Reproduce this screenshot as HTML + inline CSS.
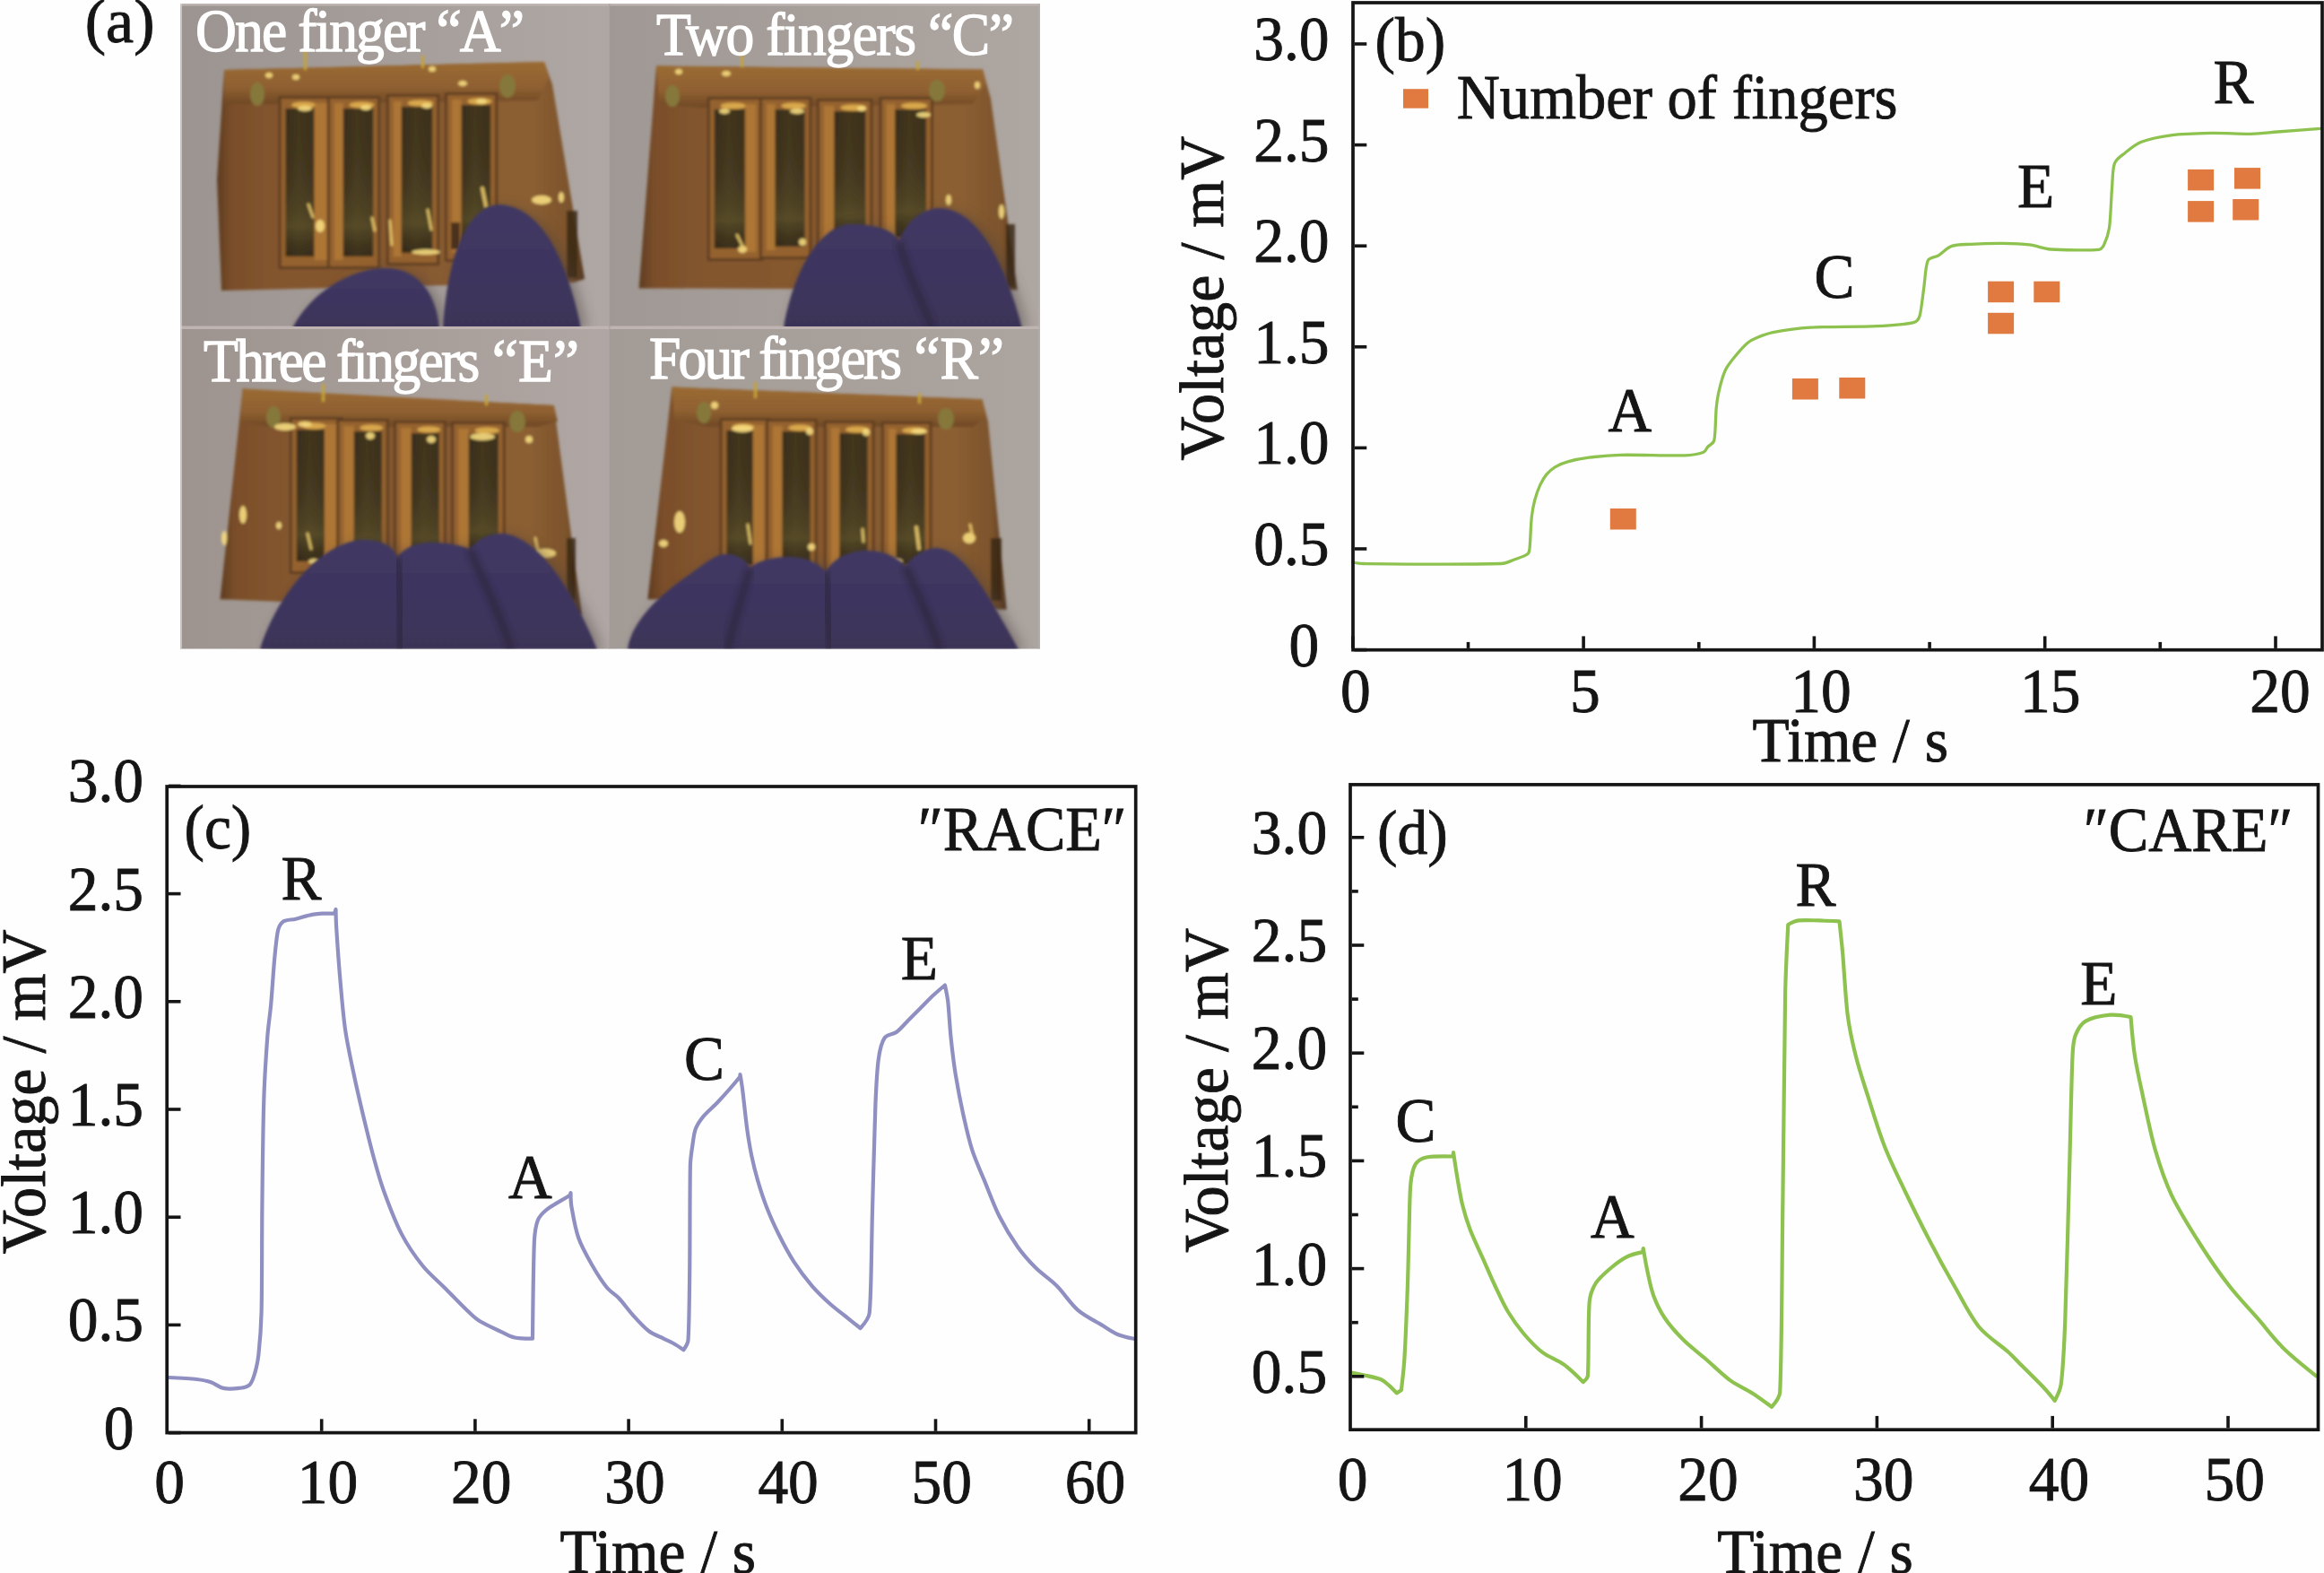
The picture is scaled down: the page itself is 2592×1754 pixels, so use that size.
<!DOCTYPE html><html><head><meta charset="utf-8"><style>html,body{margin:0;padding:0;background:#fff;overflow:hidden}svg{display:block}</style></head><body>
<svg xmlns="http://www.w3.org/2000/svg" width="2592" height="1754" viewBox="0 0 2592 1754" font-family="Liberation Serif">
<rect width="2592" height="1754" fill="#fefefe"/>
<defs><filter id="blur1" x="-5%" y="-5%" width="110%" height="110%"><feGaussianBlur stdDeviation="1.4"/></filter><filter id="blur3" x="-20%" y="-20%" width="140%" height="140%"><feGaussianBlur stdDeviation="3.5"/></filter><filter id="blur8" x="-20%" y="-20%" width="140%" height="140%"><feGaussianBlur stdDeviation="7"/></filter><linearGradient id="gold" x1="0" y1="0" x2="1" y2="0"><stop offset="0" stop-color="#5e3c20"/><stop offset="0.04" stop-color="#7a4e2a"/><stop offset="0.15" stop-color="#82552e"/><stop offset="0.5" stop-color="#86592f"/><stop offset="0.85" stop-color="#8c5f31"/><stop offset="0.96" stop-color="#7c532c"/><stop offset="1" stop-color="#4e3520"/></linearGradient><linearGradient id="elec" x1="0" y1="0" x2="1" y2="0"><stop offset="0" stop-color="#3b2e1c"/><stop offset="0.45" stop-color="#463a20"/><stop offset="1" stop-color="#3e311e"/></linearGradient><linearGradient id="elecv" x1="0" y1="0" x2="0" y2="1"><stop offset="0" stop-color="#000" stop-opacity="0.05"/><stop offset="0.55" stop-color="#5e5428" stop-opacity="0.15"/><stop offset="0.8" stop-color="#6a6030" stop-opacity="0.45"/><stop offset="1" stop-color="#20180c" stop-opacity="0.3"/></linearGradient><linearGradient id="glove" x1="0" y1="0" x2="0" y2="1"><stop offset="0" stop-color="#403864"/><stop offset="1" stop-color="#3b3358"/></linearGradient><clipPath id="q1"><rect x="201" y="4" width="479" height="360"/></clipPath><clipPath id="q2"><rect x="680" y="4" width="480" height="360"/></clipPath><clipPath id="q3"><rect x="201" y="366" width="479" height="357.5"/></clipPath><clipPath id="q4"><rect x="680" y="366" width="480" height="357.5"/></clipPath></defs>
<linearGradient id="bg1" x1="0" y1="0" x2="1" y2="0"><stop offset="0" stop-color="#9c9490"/><stop offset="1" stop-color="#afa7a3"/></linearGradient>
<linearGradient id="bg2" x1="0" y1="0" x2="1" y2="0"><stop offset="0" stop-color="#a09894"/><stop offset="1" stop-color="#aea6a1"/></linearGradient>
<linearGradient id="bg3" x1="0" y1="0" x2="1" y2="0"><stop offset="0" stop-color="#9d948f"/><stop offset="1" stop-color="#b0a7a4"/></linearGradient>
<linearGradient id="bg4" x1="0" y1="0" x2="1" y2="0"><stop offset="0" stop-color="#a39b96"/><stop offset="1" stop-color="#aca49f"/></linearGradient>
<rect x="201" y="4" width="479" height="360" fill="url(#bg1)"/>
<rect x="680" y="4" width="480" height="360" fill="url(#bg2)"/>
<rect x="201" y="364" width="479" height="359.5" fill="url(#bg3)"/>
<rect x="680" y="364" width="480" height="359.5" fill="url(#bg4)"/>
<rect x="201" y="363.5" width="959" height="3.5" fill="#bfb4b1"/>
<rect x="201" y="4" width="959" height="2.5" fill="#c4bab6" opacity="0.8"/>
<rect x="201" y="4" width="2" height="719.5" fill="#d6cdc9" opacity="0.8"/>
<rect x="1158" y="4" width="2" height="719.5" fill="#b8afab" opacity="0.7"/>
<rect x="679" y="4" width="1.5" height="719.5" fill="#a79f9c" opacity="0.6"/>
<linearGradient id="bus" x1="0" y1="0" x2="0" y2="1"><stop offset="0" stop-color="#9a6a32"/><stop offset="0.6" stop-color="#8f6030"/><stop offset="1" stop-color="#6e4825"/></linearGradient>
<g clip-path="url(#q1)"><g filter="url(#blur1)">
<polygon points="250.0,78.0 607.0,69.0 616.0,94.0 652.0,311.0 640.0,315.0 247.0,324.0 242.0,200.0" fill="url(#gold)"/>
<polygon points="250.0,78.0 607.0,69.0 612.0,86.0 600.0,112.0 300.0,116.0 250.0,116.0" fill="url(#bus)"/>
<rect x="310.6" y="107" width="62.39999999999998" height="193" fill="#5e3e20"/>
<rect x="313.6" y="110" width="56.39999999999998" height="187" fill="#94622f"/>
<rect x="351" y="115" width="14" height="175" fill="#ad7636"/>
<rect x="318.6" y="121" width="31.599999999999966" height="165" fill="url(#elec)"/>
<rect x="318.6" y="121" width="31.599999999999966" height="165" fill="url(#elecv)"/>
<ellipse cx="338.4" cy="117" rx="13.2" ry="3.5" fill="#e0b050" opacity="0.9"/>
<rect x="364.8" y="107" width="59.39999999999998" height="193" fill="#5e3e20"/>
<rect x="367.8" y="110" width="53.39999999999998" height="187" fill="#94622f"/>
<rect x="372.8" y="115" width="10.0" height="175" fill="#ad7636"/>
<rect x="382.8" y="121" width="33.39999999999998" height="165" fill="url(#elec)"/>
<rect x="382.8" y="121" width="33.39999999999998" height="165" fill="url(#elecv)"/>
<ellipse cx="403.5" cy="117" rx="13.9" ry="3.5" fill="#e0b050" opacity="0.9"/>
<rect x="430.8" y="105" width="59.39999999999998" height="191" fill="#5e3e20"/>
<rect x="433.8" y="108" width="53.39999999999998" height="185" fill="#94622f"/>
<rect x="438.8" y="113" width="9.0" height="173" fill="#ad7636"/>
<rect x="447.8" y="119" width="34.39999999999998" height="163" fill="url(#elec)"/>
<rect x="447.8" y="119" width="34.39999999999998" height="163" fill="url(#elecv)"/>
<ellipse cx="469.0" cy="115" rx="14.3" ry="3.5" fill="#e0b050" opacity="0.9"/>
<rect x="496" y="103" width="59.200000000000045" height="189" fill="#5e3e20"/>
<rect x="499" y="106" width="53.200000000000045" height="183" fill="#94622f"/>
<rect x="504" y="111" width="10.700000000000045" height="171" fill="#ad7636"/>
<rect x="514.7" y="117" width="32.5" height="161" fill="url(#elec)"/>
<rect x="514.7" y="117" width="32.5" height="161" fill="url(#elecv)"/>
<ellipse cx="534.95" cy="113" rx="13.5" ry="3.5" fill="#e0b050" opacity="0.9"/>
<rect x="503" y="248" width="10" height="30" fill="#3a2816" opacity="0.85"/>
<rect x="632" y="235" width="12" height="75" fill="#3a2816" opacity="0.85"/>
<ellipse cx="287" cy="105" rx="8" ry="13" fill="#86783a"/>
<ellipse cx="566" cy="96" rx="9" ry="13" fill="#86783a"/>
<rect x="339" y="56" width="3" height="22" fill="#c4a23a"/>
<rect x="470" y="62" width="3" height="14" fill="#c4a23a"/>
<ellipse cx="357" cy="252" rx="5" ry="7" fill="#f6dc80" opacity="0.9"/>
<ellipse cx="604" cy="223" rx="11" ry="5" fill="#f6dc80" opacity="0.9"/>
<ellipse cx="626" cy="220" rx="3" ry="6" fill="#f6dc80" opacity="0.9"/>
<ellipse cx="475" cy="281" rx="16" ry="3" fill="#f6dc80" opacity="0.9"/>
<ellipse cx="340" cy="121" rx="8" ry="3" fill="#f6dc80" opacity="0.9"/>
<ellipse cx="408" cy="120" rx="6" ry="3" fill="#f6dc80" opacity="0.9"/>
<ellipse cx="476" cy="118" rx="6" ry="3" fill="#f6dc80" opacity="0.9"/>
<ellipse cx="537" cy="113" rx="6" ry="3" fill="#f6dc80" opacity="0.9"/>
<ellipse cx="300" cy="84" rx="4" ry="3" fill="#f6dc80" opacity="0.9"/>
<ellipse cx="330" cy="86" rx="4" ry="3" fill="#f6dc80" opacity="0.9"/>
<ellipse cx="482" cy="77" rx="4" ry="3" fill="#f6dc80" opacity="0.9"/>
<ellipse cx="516" cy="93" rx="5" ry="3" fill="#f6dc80" opacity="0.9"/>
<line x1="344" y1="228" x2="349" y2="242" stroke="#f2d070" stroke-width="3" stroke-linecap="round" opacity="0.85"/>
<line x1="415" y1="243" x2="418" y2="257" stroke="#f2d070" stroke-width="3" stroke-linecap="round" opacity="0.85"/>
<line x1="435" y1="246" x2="437" y2="273" stroke="#f2d070" stroke-width="3" stroke-linecap="round" opacity="0.85"/>
<line x1="477" y1="234" x2="481" y2="256" stroke="#f2d070" stroke-width="3" stroke-linecap="round" opacity="0.85"/>
<line x1="538" y1="210" x2="542" y2="230" stroke="#f2d070" stroke-width="4" stroke-linecap="round" opacity="0.85"/>
</g>
<path d="M 326 366 C 345 328, 390 299, 430 299 C 465 299, 486 325, 490 366 Z" fill="#4a4040" opacity="0.45" transform="translate(7,2)" filter="url(#blur8)"/>
<path d="M 494 366 C 498 300, 515 232, 556 228 C 605 230, 632 290, 648 366 Z" fill="#4a4040" opacity="0.45" transform="translate(7,2)" filter="url(#blur8)"/>
<g filter="url(#blur1)">
<path d="M 326 366 C 345 328, 390 299, 430 299 C 465 299, 486 325, 490 366 Z" fill="url(#glove)"/>
<path d="M 494 366 C 498 300, 515 232, 556 228 C 605 230, 632 290, 648 366 Z" fill="url(#glove)"/>
</g>
</g>
<g clip-path="url(#q2)"><g filter="url(#blur1)">
<polygon points="732.0,73.6 1096.0,77.4 1105.0,110.0 1134.7,323.3 712.6,321.4" fill="url(#gold)"/>
<polygon points="732.0,73.6 1096.0,77.4 1100.0,92.0 1085.0,116.0 780.0,120.0 735.0,116.0" fill="url(#bus)"/>
<rect x="788.8" y="108" width="62.5" height="183" fill="#5e3e20"/>
<rect x="791.8" y="111" width="56.5" height="177" fill="#94622f"/>
<rect x="831.7" y="116" width="11.599999999999909" height="165" fill="#ad7636"/>
<rect x="796.8" y="122" width="33.90000000000009" height="155" fill="url(#elec)"/>
<rect x="796.8" y="122" width="33.90000000000009" height="155" fill="url(#elecv)"/>
<ellipse cx="817.75" cy="118" rx="14.1" ry="3.5" fill="#e0b050" opacity="0.9"/>
<rect x="846.9" y="108" width="58.60000000000002" height="181" fill="#5e3e20"/>
<rect x="849.9" y="111" width="52.60000000000002" height="175" fill="#94622f"/>
<rect x="854.9" y="116" width="9.700000000000045" height="163" fill="#ad7636"/>
<rect x="864.6" y="122" width="32.89999999999998" height="153" fill="url(#elec)"/>
<rect x="864.6" y="122" width="32.89999999999998" height="153" fill="url(#elecv)"/>
<ellipse cx="885.05" cy="118" rx="13.7" ry="3.5" fill="#e0b050" opacity="0.9"/>
<rect x="910.8" y="110" width="62.5" height="174" fill="#5e3e20"/>
<rect x="913.8" y="113" width="56.5" height="168" fill="#94622f"/>
<rect x="918.8" y="118" width="11.600000000000023" height="156" fill="#ad7636"/>
<rect x="930.4" y="124" width="34.89999999999998" height="146" fill="url(#elec)"/>
<rect x="930.4" y="124" width="34.89999999999998" height="146" fill="url(#elecv)"/>
<ellipse cx="951.8499999999999" cy="120" rx="14.5" ry="3.5" fill="#e0b050" opacity="0.9"/>
<rect x="980.5" y="108" width="60.5" height="171" fill="#5e3e20"/>
<rect x="983.5" y="111" width="54.5" height="165" fill="#94622f"/>
<rect x="988.5" y="116" width="9.700000000000045" height="153" fill="#ad7636"/>
<rect x="998.2" y="122" width="34.799999999999955" height="143" fill="url(#elec)"/>
<rect x="998.2" y="122" width="34.799999999999955" height="143" fill="url(#elecv)"/>
<ellipse cx="1019.6" cy="118" rx="14.5" ry="3.5" fill="#e0b050" opacity="0.9"/>
<rect x="1122" y="250" width="10" height="70" fill="#3a2816" opacity="0.85"/>
<ellipse cx="750" cy="107" rx="8" ry="12" fill="#86783a"/>
<ellipse cx="1045" cy="101" rx="9" ry="12" fill="#86783a"/>
<rect x="826" y="58" width="3" height="17" fill="#c4a23a"/>
<rect x="1022" y="68" width="3" height="10" fill="#c4a23a"/>
<ellipse cx="808" cy="124" rx="6" ry="3" fill="#f6dc80" opacity="0.9"/>
<ellipse cx="889" cy="124" rx="8" ry="3" fill="#f6dc80" opacity="0.9"/>
<ellipse cx="961" cy="121" rx="5" ry="3" fill="#f6dc80" opacity="0.9"/>
<ellipse cx="1030" cy="128" rx="8" ry="3" fill="#f6dc80" opacity="0.9"/>
<ellipse cx="828" cy="278" rx="5" ry="4" fill="#f6dc80" opacity="0.9"/>
<ellipse cx="895" cy="270" rx="4" ry="4" fill="#f6dc80" opacity="0.9"/>
<ellipse cx="757" cy="80" rx="4" ry="3" fill="#f6dc80" opacity="0.9"/>
<ellipse cx="810" cy="82" rx="5" ry="3" fill="#f6dc80" opacity="0.9"/>
<ellipse cx="1058" cy="223" rx="3" ry="6" fill="#f6dc80" opacity="0.9"/>
<ellipse cx="1117" cy="236" rx="3" ry="8" fill="#f6dc80" opacity="0.9"/>
<ellipse cx="1090" cy="95" rx="3" ry="4" fill="#f6dc80" opacity="0.9"/>
<line x1="822" y1="262" x2="829" y2="276" stroke="#f2d070" stroke-width="3" stroke-linecap="round" opacity="0.85"/>
<line x1="952" y1="258" x2="955" y2="270" stroke="#f2d070" stroke-width="3" stroke-linecap="round" opacity="0.85"/>
<line x1="1020" y1="250" x2="1024" y2="262" stroke="#f2d070" stroke-width="3" stroke-linecap="round" opacity="0.85"/>
</g>
<path d="M 874 366 C 885 300, 915 252, 948 250 C 980 250, 997 258, 1003 268 C 1012 245, 1030 232, 1049 232 C 1090 234, 1120 290, 1140 366 Z" fill="#4a4040" opacity="0.45" transform="translate(7,2)" filter="url(#blur8)"/>
<g filter="url(#blur1)">
<path d="M 874 366 C 885 300, 915 252, 948 250 C 980 250, 997 258, 1003 268 C 1012 245, 1030 232, 1049 232 C 1090 234, 1120 290, 1140 366 Z" fill="url(#glove)"/>
</g>
<path d="M 1003 270 C 1010 300, 1025 330, 1040 366" fill="none" stroke="#2b2334" stroke-width="7" opacity="0.7" filter="url(#blur3)"/>
</g>
<g clip-path="url(#q3)"><g filter="url(#blur1)">
<polygon points="270.7,433.6 354.0,439.4 617.8,452.0 648.8,685.6 315.0,671.0 245.5,668.2" fill="url(#gold)"/>
<polygon points="270.7,433.6 617.8,452.0 622.0,470.0 600.0,476.0 300.0,476.0 268.0,470.0" fill="url(#bus)"/>
<rect x="322.8" y="465" width="60.19999999999999" height="175" fill="#5e3e20"/>
<rect x="325.8" y="468" width="54.19999999999999" height="169" fill="#94622f"/>
<rect x="362" y="473" width="13" height="157" fill="#ad7636"/>
<rect x="330.8" y="479" width="31.0" height="147" fill="url(#elec)"/>
<rect x="330.8" y="479" width="31.0" height="147" fill="url(#elecv)"/>
<ellipse cx="350.3" cy="475" rx="12.9" ry="3.5" fill="#e0b050" opacity="0.9"/>
<rect x="375.2" y="467" width="58.60000000000002" height="177" fill="#5e3e20"/>
<rect x="378.2" y="470" width="52.60000000000002" height="171" fill="#94622f"/>
<rect x="383.2" y="475" width="11.600000000000023" height="159" fill="#ad7636"/>
<rect x="394.8" y="481" width="31.0" height="149" fill="url(#elec)"/>
<rect x="394.8" y="481" width="31.0" height="149" fill="url(#elecv)"/>
<ellipse cx="414.3" cy="477" rx="12.9" ry="3.5" fill="#e0b050" opacity="0.9"/>
<rect x="439.1" y="469" width="58.69999999999999" height="175" fill="#5e3e20"/>
<rect x="442.1" y="472" width="52.69999999999999" height="169" fill="#94622f"/>
<rect x="447.1" y="477" width="11.699999999999989" height="157" fill="#ad7636"/>
<rect x="458.8" y="483" width="31.0" height="147" fill="url(#elec)"/>
<rect x="458.8" y="483" width="31.0" height="147" fill="url(#elecv)"/>
<ellipse cx="478.3" cy="479" rx="12.9" ry="3.5" fill="#e0b050" opacity="0.9"/>
<rect x="503.1" y="470" width="60.60000000000002" height="164" fill="#5e3e20"/>
<rect x="506.1" y="473" width="54.60000000000002" height="158" fill="#94622f"/>
<rect x="511.1" y="478" width="11.699999999999932" height="146" fill="#ad7636"/>
<rect x="522.8" y="484" width="32.90000000000009" height="136" fill="url(#elec)"/>
<rect x="522.8" y="484" width="32.90000000000009" height="136" fill="url(#elecv)"/>
<ellipse cx="543.25" cy="480" rx="13.7" ry="3.5" fill="#e0b050" opacity="0.9"/>
<rect x="632" y="600" width="10" height="70" fill="#3a2816" opacity="0.85"/>
<ellipse cx="305" cy="465" rx="8" ry="12" fill="#86783a"/>
<ellipse cx="577" cy="470" rx="9" ry="12" fill="#86783a"/>
<rect x="359" y="428" width="3" height="20" fill="#c4a23a"/>
<rect x="541" y="440" width="3" height="12" fill="#c4a23a"/>
<ellipse cx="271" cy="574" rx="4" ry="10" fill="#f6dc80" opacity="0.9"/>
<ellipse cx="311" cy="586" rx="3" ry="4" fill="#f6dc80" opacity="0.9"/>
<ellipse cx="318" cy="476" rx="12" ry="4" fill="#f6dc80" opacity="0.9"/>
<ellipse cx="413" cy="486" rx="5" ry="4" fill="#f6dc80" opacity="0.9"/>
<ellipse cx="481" cy="490" rx="5" ry="4" fill="#f6dc80" opacity="0.9"/>
<ellipse cx="538" cy="487" rx="14" ry="4" fill="#f6dc80" opacity="0.9"/>
<ellipse cx="608" cy="617" rx="12" ry="5" fill="#f6dc80" opacity="0.9"/>
<ellipse cx="350" cy="626" rx="6" ry="3" fill="#f6dc80" opacity="0.9"/>
<ellipse cx="340" cy="473" rx="8" ry="3" fill="#f6dc80" opacity="0.9"/>
<ellipse cx="590" cy="490" rx="4" ry="4" fill="#f6dc80" opacity="0.9"/>
<ellipse cx="250" cy="600" rx="3" ry="8" fill="#f6dc80" opacity="0.9"/>
<line x1="343" y1="595" x2="347" y2="612" stroke="#f2d070" stroke-width="3" stroke-linecap="round" opacity="0.85"/>
<line x1="597" y1="600" x2="600" y2="615" stroke="#f2d070" stroke-width="3" stroke-linecap="round" opacity="0.85"/>
</g>
<path d="M 290 724 C 310 660, 360 604, 404 602 C 430 602, 440 612, 443 621 C 452 610, 465 605, 480 605 C 505 605, 518 610, 524 612 C 535 600, 545 595, 560 595 C 600 597, 640 660, 666 724 Z" fill="#4a4040" opacity="0.45" transform="translate(7,2)" filter="url(#blur8)"/>
<g filter="url(#blur1)">
<path d="M 290 724 C 310 660, 360 604, 404 602 C 430 602, 440 612, 443 621 C 452 610, 465 605, 480 605 C 505 605, 518 610, 524 612 C 535 600, 545 595, 560 595 C 600 597, 640 660, 666 724 Z" fill="url(#glove)"/>
</g>
<path d="M 443 622 C 446 660, 448 700, 447 724" fill="none" stroke="#2b2334" stroke-width="7" opacity="0.7" filter="url(#blur3)"/>
<path d="M 524 613 C 540 650, 560 690, 570 724" fill="none" stroke="#2b2334" stroke-width="7" opacity="0.7" filter="url(#blur3)"/>
</g>
<g clip-path="url(#q4)"><g filter="url(#blur1)">
<polygon points="749.4,431.6 1095.5,445.2 1102.0,470.0 1122.7,679.8 722.3,668.2" fill="url(#gold)"/>
<polygon points="749.4,431.6 1095.5,445.2 1100.0,465.0 1085.0,476.0 790.0,476.0 752.0,468.0" fill="url(#bus)"/>
<rect x="802.5" y="466" width="57.5" height="178" fill="#5e3e20"/>
<rect x="805.5" y="469" width="51.5" height="172" fill="#94622f"/>
<rect x="840" y="474" width="12" height="160" fill="#ad7636"/>
<rect x="810.5" y="480" width="29.100000000000023" height="150" fill="url(#elec)"/>
<rect x="810.5" y="480" width="29.100000000000023" height="150" fill="url(#elecv)"/>
<ellipse cx="829.05" cy="476" rx="12.1" ry="3.5" fill="#e0b050" opacity="0.9"/>
<rect x="853.9" y="467" width="57.700000000000045" height="177" fill="#5e3e20"/>
<rect x="856.9" y="470" width="51.700000000000045" height="171" fill="#94622f"/>
<rect x="861.9" y="475" width="10.700000000000045" height="159" fill="#ad7636"/>
<rect x="872.6" y="481" width="31.0" height="149" fill="url(#elec)"/>
<rect x="872.6" y="481" width="31.0" height="149" fill="url(#elecv)"/>
<ellipse cx="892.1" cy="477" rx="12.9" ry="3.5" fill="#e0b050" opacity="0.9"/>
<rect x="918.8" y="469" width="56.80000000000007" height="175" fill="#5e3e20"/>
<rect x="921.8" y="472" width="50.80000000000007" height="169" fill="#94622f"/>
<rect x="926.8" y="477" width="9.700000000000045" height="157" fill="#ad7636"/>
<rect x="936.5" y="483" width="31.100000000000023" height="147" fill="url(#elec)"/>
<rect x="936.5" y="483" width="31.100000000000023" height="147" fill="url(#elecv)"/>
<ellipse cx="956.05" cy="479" rx="13.0" ry="3.5" fill="#e0b050" opacity="0.9"/>
<rect x="982.8" y="470" width="56.700000000000045" height="174" fill="#5e3e20"/>
<rect x="985.8" y="473" width="50.700000000000045" height="168" fill="#94622f"/>
<rect x="990.8" y="478" width="8.700000000000045" height="156" fill="#ad7636"/>
<rect x="999.5" y="484" width="32.0" height="146" fill="url(#elec)"/>
<rect x="999.5" y="484" width="32.0" height="146" fill="url(#elecv)"/>
<ellipse cx="1019.5" cy="480" rx="13.3" ry="3.5" fill="#e0b050" opacity="0.9"/>
<rect x="1105" y="600" width="12" height="70" fill="#3a2816" opacity="0.85"/>
<ellipse cx="785" cy="460" rx="8" ry="12" fill="#86783a"/>
<ellipse cx="1055" cy="467" rx="9" ry="12" fill="#86783a"/>
<rect x="841" y="426" width="3" height="18" fill="#c4a23a"/>
<rect x="1024" y="438" width="3" height="12" fill="#c4a23a"/>
<ellipse cx="758" cy="582" rx="6" ry="12" fill="#f6dc80" opacity="0.9"/>
<ellipse cx="740" cy="606" rx="5" ry="4" fill="#f6dc80" opacity="0.9"/>
<ellipse cx="828" cy="478" rx="12" ry="4" fill="#f6dc80" opacity="0.9"/>
<ellipse cx="903" cy="481" rx="4" ry="4" fill="#f6dc80" opacity="0.9"/>
<ellipse cx="966" cy="482" rx="4" ry="4" fill="#f6dc80" opacity="0.9"/>
<ellipse cx="1025" cy="481" rx="9" ry="3" fill="#f6dc80" opacity="0.9"/>
<ellipse cx="1081" cy="600" rx="7" ry="6" fill="#f6dc80" opacity="0.9"/>
<ellipse cx="905" cy="610" rx="4" ry="4" fill="#f6dc80" opacity="0.9"/>
<ellipse cx="1001" cy="626" rx="6" ry="3" fill="#f6dc80" opacity="0.9"/>
<ellipse cx="797" cy="452" rx="4" ry="4" fill="#f6dc80" opacity="0.9"/>
<line x1="834" y1="585" x2="837" y2="606" stroke="#f2d070" stroke-width="3" stroke-linecap="round" opacity="0.85"/>
<line x1="1022" y1="588" x2="1025" y2="612" stroke="#f2d070" stroke-width="4" stroke-linecap="round" opacity="0.85"/>
<line x1="962" y1="590" x2="963" y2="604" stroke="#f2d070" stroke-width="3" stroke-linecap="round" opacity="0.85"/>
<line x1="1082" y1="585" x2="1085" y2="600" stroke="#f2d070" stroke-width="3" stroke-linecap="round" opacity="0.85"/>
</g>
<path d="M 700 724 C 705 690, 740 660, 770 640 C 790 625, 800 618, 809 618 C 825 618, 833 626, 836 633 C 848 624, 865 621, 880 621 C 900 621, 915 630, 921 637 C 932 620, 950 614, 966 614 C 990 614, 1003 624, 1010 631 C 1020 618, 1032 611, 1045 611 C 1075 613, 1100 660, 1136 724 Z" fill="#4a4040" opacity="0.45" transform="translate(7,2)" filter="url(#blur8)"/>
<g filter="url(#blur1)">
<path d="M 700 724 C 705 690, 740 660, 770 640 C 790 625, 800 618, 809 618 C 825 618, 833 626, 836 633 C 848 624, 865 621, 880 621 C 900 621, 915 630, 921 637 C 932 620, 950 614, 966 614 C 990 614, 1003 624, 1010 631 C 1020 618, 1032 611, 1045 611 C 1075 613, 1100 660, 1136 724 Z" fill="url(#glove)"/>
</g>
<path d="M 836 634 C 830 660, 818 690, 812 724" fill="none" stroke="#2b2334" stroke-width="7" opacity="0.7" filter="url(#blur3)"/>
<path d="M 921 638 C 922 670, 925 700, 926 724" fill="none" stroke="#2b2334" stroke-width="7" opacity="0.7" filter="url(#blur3)"/>
<path d="M 1010 632 C 1025 665, 1040 700, 1048 724" fill="none" stroke="#2b2334" stroke-width="7" opacity="0.7" filter="url(#blur3)"/>
</g>
<text transform="translate(218.0,57.4) scale(0.95,1)" font-size="67" fill="#ffffff" stroke="#ffffff" stroke-width="1.3" textLength="386.3" lengthAdjust="spacing">One finger &#8220;A&#8221;</text>
<text transform="translate(732.0,61.4) scale(0.95,1)" font-size="67" fill="#ffffff" stroke="#ffffff" stroke-width="1.3" textLength="420.0" lengthAdjust="spacing">Two fingers &#8220;C&#8221;</text>
<text transform="translate(227.0,425.2) scale(0.95,1)" font-size="67" fill="#ffffff" stroke="#ffffff" stroke-width="1.3" textLength="444.2" lengthAdjust="spacing">Three fingers &#8216;&#8216;E&#8217;&#8217;</text>
<text transform="translate(724.0,421.5) scale(0.95,1)" font-size="67" fill="#ffffff" stroke="#ffffff" stroke-width="1.3" textLength="420.0" lengthAdjust="spacing">Four fingers &#8216;&#8216;R&#8217;&#8217;</text>
<text transform="translate(94.8,46.7) scale(1.0,1)" font-size="70" fill="#151515" stroke="#151515" stroke-width="0.9" text-anchor="start">(a)</text>
<path d="M1509.0,627.0 C1509.0,627.0 1516.3,628.5 1520.0,628.5 C1547.5,628.8 1645.8,629.2 1674.0,628.5 C1679.2,628.4 1684.1,625.8 1689.0,624.0 C1693.9,622.2 1700.7,620.0 1703.5,618.0 C1705.3,616.8 1705.8,614.2 1706.0,612.0 C1706.8,605.1 1707.3,585.5 1708.3,576.4 C1709.0,570.0 1710.2,563.4 1711.8,557.5 C1713.3,551.8 1715.5,545.6 1717.7,540.9 C1719.6,536.7 1722.0,532.5 1724.8,529.1 C1727.5,525.9 1730.7,523.0 1734.3,520.8 C1738.2,518.4 1743.6,516.3 1748.5,514.9 C1754.8,513.1 1764.2,511.2 1772.2,510.2 C1782.0,508.9 1795.8,507.6 1807.6,507.3 C1825.3,506.9 1863.2,508.3 1878.6,507.8 C1885.8,507.6 1895.7,505.8 1900.0,504.2 C1902.4,503.3 1903.0,500.2 1904.7,498.3 C1906.7,496.1 1911.1,494.5 1911.8,491.2 C1913.4,484.0 1913.4,463.7 1914.2,455.0 C1914.7,449.7 1915.4,444.4 1916.5,439.2 C1917.7,433.5 1919.6,425.9 1921.2,421.0 C1922.5,417.1 1923.8,413.1 1926.0,409.6 C1928.8,405.1 1933.9,398.8 1937.8,394.2 C1941.5,389.9 1946.0,384.9 1949.6,382.0 C1952.6,379.6 1956.1,377.9 1959.6,376.5 C1964.2,374.6 1971.3,371.8 1977.4,370.6 C1987.3,368.7 2005.1,366.0 2019.1,365.2 C2038.4,364.0 2074.2,364.7 2093.5,363.7 C2107.5,363.0 2127.2,361.3 2135.2,359.3 C2138.3,358.5 2140.3,354.9 2141.2,351.8 C2142.9,345.6 2144.2,331.9 2145.6,322.0 C2147.1,311.8 2147.4,297.0 2150.1,290.8 C2151.9,286.7 2158.2,287.1 2162.0,284.8 C2166.5,282.1 2171.2,276.4 2176.9,274.4 C2182.9,272.3 2190.8,272.7 2197.8,272.3 C2207.2,271.8 2222.6,271.3 2233.5,271.4 C2243.4,271.5 2254.4,271.8 2263.3,272.9 C2271.4,273.9 2279.0,277.4 2287.1,278.0 C2300.0,278.9 2330.8,279.2 2340.7,278.3 C2343.4,278.1 2345.4,275.3 2346.6,272.9 C2348.6,268.8 2351.7,260.2 2352.6,253.5 C2354.1,242.8 2354.6,220.8 2355.6,208.9 C2356.3,199.9 2356.0,188.6 2358.5,182.1 C2360.5,176.8 2366.1,173.7 2370.5,170.2 C2375.5,166.2 2381.6,160.9 2388.3,158.3 C2396.7,155.1 2410.0,152.2 2421.1,150.8 C2434.0,149.2 2450.8,148.7 2465.7,148.4 C2480.6,148.2 2498.0,149.5 2510.4,149.3 C2520.4,149.1 2530.3,147.8 2540.2,147.0 C2553.1,146.0 2588.0,143.4 2588.0,143.4" fill="none" stroke="#8dc24f" stroke-width="3.3" stroke-linejoin="round" stroke-linecap="round"/>
<rect x="1509" y="3" width="1081.0" height="721.7" fill="none" stroke="#151515" stroke-width="3.7"/>
<line x1="1510.8" y1="724.6" x2="1524.3" y2="724.6" stroke="#151515" stroke-width="3.6"/>
<line x1="1510.8" y1="612.0" x2="1524.3" y2="612.0" stroke="#151515" stroke-width="3.6"/>
<line x1="1510.8" y1="499.4" x2="1524.3" y2="499.4" stroke="#151515" stroke-width="3.6"/>
<line x1="1510.8" y1="386.8" x2="1524.3" y2="386.8" stroke="#151515" stroke-width="3.6"/>
<line x1="1510.8" y1="274.2" x2="1524.3" y2="274.2" stroke="#151515" stroke-width="3.6"/>
<line x1="1510.8" y1="161.6" x2="1524.3" y2="161.6" stroke="#151515" stroke-width="3.6"/>
<line x1="1510.8" y1="49.0" x2="1524.3" y2="49.0" stroke="#151515" stroke-width="3.6"/>
<line x1="1508.8" y1="722.9000000000001" x2="1508.8" y2="709.4" stroke="#151515" stroke-width="3.6"/>
<line x1="1637.5" y1="722.9000000000001" x2="1637.5" y2="715.9" stroke="#151515" stroke-width="3.6"/>
<line x1="1766.1" y1="722.9000000000001" x2="1766.1" y2="709.4" stroke="#151515" stroke-width="3.6"/>
<line x1="1894.8" y1="722.9000000000001" x2="1894.8" y2="715.9" stroke="#151515" stroke-width="3.6"/>
<line x1="2023.4" y1="722.9000000000001" x2="2023.4" y2="709.4" stroke="#151515" stroke-width="3.6"/>
<line x1="2152.1" y1="722.9000000000001" x2="2152.1" y2="715.9" stroke="#151515" stroke-width="3.6"/>
<line x1="2280.7" y1="722.9000000000001" x2="2280.7" y2="709.4" stroke="#151515" stroke-width="3.6"/>
<line x1="2409.3" y1="722.9000000000001" x2="2409.3" y2="715.9" stroke="#151515" stroke-width="3.6"/>
<line x1="2538.0" y1="722.9000000000001" x2="2538.0" y2="709.4" stroke="#151515" stroke-width="3.6"/>
<text transform="translate(1471.2,742.6) scale(0.963,1)" font-size="70" fill="#151515" stroke="#151515" stroke-width="0.9" text-anchor="end">0</text>
<text transform="translate(1482.5,630.0) scale(0.963,1)" font-size="70" fill="#151515" stroke="#151515" stroke-width="0.9" text-anchor="end">0.5</text>
<text transform="translate(1482.5,517.4) scale(0.963,1)" font-size="70" fill="#151515" stroke="#151515" stroke-width="0.9" text-anchor="end">1.0</text>
<text transform="translate(1482.5,404.8) scale(0.963,1)" font-size="70" fill="#151515" stroke="#151515" stroke-width="0.9" text-anchor="end">1.5</text>
<text transform="translate(1482.5,292.2) scale(0.963,1)" font-size="70" fill="#151515" stroke="#151515" stroke-width="0.9" text-anchor="end">2.0</text>
<text transform="translate(1482.5,179.6) scale(0.963,1)" font-size="70" fill="#151515" stroke="#151515" stroke-width="0.9" text-anchor="end">2.5</text>
<text transform="translate(1482.5,67.0) scale(0.963,1)" font-size="70" fill="#151515" stroke="#151515" stroke-width="0.9" text-anchor="end">3.0</text>
<text transform="translate(1511.8,794.0) scale(0.963,1)" font-size="70" fill="#151515" stroke="#151515" stroke-width="0.9" text-anchor="middle">0</text>
<text transform="translate(1767.8,794.0) scale(0.963,1)" font-size="70" fill="#151515" stroke="#151515" stroke-width="0.9" text-anchor="middle">5</text>
<text transform="translate(2030.9,794.0) scale(0.963,1)" font-size="70" fill="#151515" stroke="#151515" stroke-width="0.9" text-anchor="middle">10</text>
<text transform="translate(2286.7,794.0) scale(0.963,1)" font-size="70" fill="#151515" stroke="#151515" stroke-width="0.9" text-anchor="middle">15</text>
<text transform="translate(2543.0,794.0) scale(0.963,1)" font-size="70" fill="#151515" stroke="#151515" stroke-width="0.9" text-anchor="middle">20</text>
<text transform="translate(1954.4,849.0) scale(0.963,1)" font-size="70" fill="#151515" stroke="#151515" stroke-width="0.9" text-anchor="start">Time / s</text>
<text transform="translate(1364.3,513.4) rotate(-90) scale(0.973,1)" font-size="70" fill="#151515" stroke="#151515" stroke-width="0.9">Voltage / mV</text>
<text transform="translate(1533.5,67.7) scale(0.963,1)" font-size="70" fill="#151515" stroke="#151515" stroke-width="0.9" text-anchor="start">(b)</text>
<rect x="1565" y="99.2" width="28" height="21.5" fill="#e07a40"/>
<text transform="translate(1624.8,132.4) scale(0.951,1)" font-size="70" fill="#151515" stroke="#151515" stroke-width="0.9" text-anchor="start">Number of fingers</text>
<rect x="1795.8" y="567" width="29" height="23.5" fill="#e07a40"/>
<rect x="1998.9" y="422" width="29" height="23.5" fill="#e07a40"/>
<rect x="2051.3" y="421" width="29" height="23.5" fill="#e07a40"/>
<rect x="2217.1" y="313.7" width="29" height="23.5" fill="#e07a40"/>
<rect x="2268.3" y="313.7" width="29" height="23.5" fill="#e07a40"/>
<rect x="2217.1" y="348.8" width="29" height="23.5" fill="#e07a40"/>
<rect x="2440.1" y="188.9" width="29" height="23.5" fill="#e07a40"/>
<rect x="2492" y="187.1" width="29" height="23.5" fill="#e07a40"/>
<rect x="2440.1" y="224.1" width="29" height="23.5" fill="#e07a40"/>
<rect x="2490.2" y="222" width="29" height="23.5" fill="#e07a40"/>
<text transform="translate(1793.6,481.3) scale(0.963,1)" font-size="70" fill="#151515" stroke="#151515" stroke-width="0.9" text-anchor="start">A</text>
<text transform="translate(2023.5,332.0) scale(0.963,1)" font-size="70" fill="#151515" stroke="#151515" stroke-width="0.9" text-anchor="start">C</text>
<text transform="translate(2250.0,231.2) scale(0.963,1)" font-size="70" fill="#151515" stroke="#151515" stroke-width="0.9" text-anchor="start">E</text>
<text transform="translate(2468.6,115.1) scale(0.963,1)" font-size="70" fill="#151515" stroke="#151515" stroke-width="0.9" text-anchor="start">R</text>
<path d="M187.9,1536.0 C187.9,1536.0 211.5,1537.1 219.4,1538.0 C224.7,1538.6 230.3,1539.5 235.2,1541.2 C240.0,1542.8 244.0,1546.8 249.0,1547.9 C254.2,1549.0 261.8,1548.6 266.7,1547.9 C270.8,1547.3 275.6,1546.9 278.6,1543.9 C281.6,1540.9 283.1,1534.9 284.5,1530.1 C286.1,1524.5 287.7,1517.1 288.4,1510.4 C289.6,1499.2 291.2,1478.9 291.6,1463.1 C292.3,1435.5 292.0,1384.2 292.4,1344.8 C292.8,1305.4 293.3,1258.0 294.3,1226.5 C295.0,1202.8 297.0,1173.3 298.3,1155.6 C299.2,1143.7 301.1,1132.0 302.2,1120.1 C303.5,1105.6 304.9,1082.6 306.2,1068.8 C307.2,1058.3 308.5,1044.2 310.1,1037.3 C311.0,1033.6 312.8,1029.6 316.0,1027.5 C319.3,1025.4 325.2,1025.8 329.8,1024.7 C335.4,1023.4 342.8,1020.6 349.5,1019.6 C356.7,1018.5 373.2,1018.4 373.2,1018.4 C373.2,1018.4 374.5,1014.0 374.5,1014.0 C374.5,1014.0 374.7,1026.9 375.1,1033.4 C375.9,1045.8 377.5,1070.2 379.1,1088.6 C380.8,1107.6 382.4,1129.3 385.0,1147.7 C387.5,1164.9 391.6,1183.2 394.9,1199.0 C397.9,1213.5 401.3,1227.9 404.7,1242.3 C408.3,1257.4 412.6,1275.1 416.5,1289.6 C420.1,1302.8 423.7,1316.1 428.4,1329.0 C433.7,1343.5 440.9,1362.6 448.1,1376.4 C454.7,1389.0 463.8,1402.0 471.7,1411.8 C478.7,1420.5 487.5,1427.6 495.4,1435.5 C503.9,1444.0 516.4,1456.8 523.0,1463.1 C526.7,1466.6 530.4,1470.3 534.8,1473.0 C540.7,1476.6 551.9,1481.7 558.5,1484.8 C563.7,1487.2 568.6,1490.3 574.2,1491.5 C580.1,1492.8 594.0,1492.7 594.0,1492.7 C594.0,1492.7 594.9,1406.2 595.9,1384.2 C596.3,1376.2 597.6,1366.5 599.9,1360.6 C601.8,1355.8 605.7,1351.9 609.7,1348.8 C615.6,1344.2 630.8,1336.1 635.3,1333.0 C636.2,1332.4 636.5,1330.0 636.5,1330.0 C636.5,1330.0 636.5,1339.9 637.3,1344.8 C638.8,1353.2 641.2,1369.1 645.2,1380.3 C649.1,1391.4 655.8,1402.6 661.0,1411.8 C665.7,1420.0 671.9,1429.6 676.7,1435.5 C680.4,1440.1 685.9,1443.0 690.0,1447.3 C695.0,1452.6 701.2,1461.3 706.8,1467.5 C712.1,1473.4 718.1,1480.1 723.7,1484.3 C728.7,1488.1 736.0,1490.5 740.5,1492.8 C743.9,1494.5 747.4,1495.9 750.7,1497.8 C754.4,1499.9 762.4,1505.2 762.4,1505.2 C762.4,1505.2 767.2,1498.4 767.5,1494.5 C768.6,1479.8 768.9,1442.8 769.2,1417.0 C769.6,1384.4 769.3,1322.6 769.9,1299.0 C770.1,1291.1 771.6,1282.1 772.6,1275.4 C773.4,1269.8 774.0,1263.6 775.9,1258.6 C777.8,1253.7 780.9,1249.2 784.3,1245.1 C788.5,1240.0 795.8,1234.1 801.2,1228.3 C808.0,1221.0 820.8,1206.3 824.8,1201.3 C825.5,1200.4 825.5,1198.0 825.5,1198.0 C825.5,1198.0 827.4,1209.2 828.1,1214.8 C829.4,1224.9 831.5,1246.2 833.2,1258.6 C834.6,1268.7 836.3,1279.4 838.3,1288.9 C840.2,1298.0 842.4,1307.0 845.0,1315.9 C847.8,1325.5 851.2,1336.3 855.1,1346.2 C859.0,1356.3 863.7,1366.6 868.6,1376.5 C873.6,1386.6 879.2,1397.2 885.4,1406.8 C891.5,1416.2 898.9,1425.9 905.6,1433.8 C911.8,1441.0 919.7,1448.4 925.9,1454.0 C931.2,1458.8 937.1,1463.0 942.7,1467.5 C948.3,1472.0 959.6,1481.0 959.6,1481.0 C959.6,1481.0 969.0,1470.6 969.7,1464.1 C971.9,1442.2 971.9,1387.8 973.0,1349.6 C974.1,1310.8 975.3,1259.7 976.4,1231.6 C977.1,1214.7 978.1,1193.4 979.8,1181.1 C980.9,1173.0 983.1,1162.5 986.5,1157.5 C989.3,1153.3 996.0,1153.8 1000.0,1150.8 C1004.5,1147.4 1009.0,1141.8 1013.5,1137.3 C1018.0,1132.8 1022.5,1128.3 1027.0,1123.8 C1031.5,1119.3 1035.9,1114.5 1040.4,1110.3 C1044.8,1106.2 1053.9,1098.5 1053.9,1098.5 C1053.9,1098.5 1056.6,1110.8 1057.3,1117.1 C1058.4,1126.9 1059.2,1144.1 1060.6,1157.5 C1062.0,1171.0 1063.6,1184.5 1065.7,1197.9 C1068.0,1211.9 1071.0,1227.7 1074.1,1241.7 C1077.1,1255.3 1080.3,1269.8 1084.2,1282.2 C1087.9,1293.7 1093.1,1304.7 1097.7,1315.9 C1102.8,1328.2 1108.4,1344.0 1114.6,1356.3 C1120.5,1368.0 1128.1,1380.5 1134.8,1390.0 C1140.8,1398.5 1147.7,1406.3 1155.0,1413.6 C1162.3,1420.9 1171.3,1426.5 1178.6,1433.8 C1186.5,1441.7 1193.8,1453.5 1202.2,1460.8 C1210.2,1467.7 1221.8,1473.1 1229.1,1477.6 C1234.7,1481.0 1240.1,1485.2 1246.0,1487.7 C1251.9,1490.2 1264.5,1492.8 1264.5,1492.8" fill="none" stroke="#8f8fc2" stroke-width="4.2" stroke-linejoin="round" stroke-linecap="round"/>
<rect x="186.2" y="877" width="1080.5" height="720.6" fill="none" stroke="#151515" stroke-width="3.7"/>
<line x1="188.0" y1="1597.6" x2="201.5" y2="1597.6" stroke="#151515" stroke-width="3.6"/>
<line x1="188.0" y1="1477.4" x2="201.5" y2="1477.4" stroke="#151515" stroke-width="3.6"/>
<line x1="188.0" y1="1357.2" x2="201.5" y2="1357.2" stroke="#151515" stroke-width="3.6"/>
<line x1="188.0" y1="1237.0" x2="201.5" y2="1237.0" stroke="#151515" stroke-width="3.6"/>
<line x1="188.0" y1="1116.8" x2="201.5" y2="1116.8" stroke="#151515" stroke-width="3.6"/>
<line x1="188.0" y1="996.6" x2="201.5" y2="996.6" stroke="#151515" stroke-width="3.6"/>
<line x1="188.0" y1="876.4" x2="201.5" y2="876.4" stroke="#151515" stroke-width="3.6"/>
<line x1="358.7" y1="1595.8" x2="358.7" y2="1582.3" stroke="#151515" stroke-width="3.6"/>
<line x1="529.9" y1="1595.8" x2="529.9" y2="1582.3" stroke="#151515" stroke-width="3.6"/>
<line x1="701.1" y1="1595.8" x2="701.1" y2="1582.3" stroke="#151515" stroke-width="3.6"/>
<line x1="872.3" y1="1595.8" x2="872.3" y2="1582.3" stroke="#151515" stroke-width="3.6"/>
<line x1="1043.5" y1="1595.8" x2="1043.5" y2="1582.3" stroke="#151515" stroke-width="3.6"/>
<line x1="1214.7" y1="1595.8" x2="1214.7" y2="1582.3" stroke="#151515" stroke-width="3.6"/>
<text transform="translate(149.4,1615.6) scale(0.963,1)" font-size="70" fill="#151515" stroke="#151515" stroke-width="0.9" text-anchor="end">0</text>
<text transform="translate(160.0,1495.4) scale(0.963,1)" font-size="70" fill="#151515" stroke="#151515" stroke-width="0.9" text-anchor="end">0.5</text>
<text transform="translate(160.0,1375.2) scale(0.963,1)" font-size="70" fill="#151515" stroke="#151515" stroke-width="0.9" text-anchor="end">1.0</text>
<text transform="translate(160.0,1255.0) scale(0.963,1)" font-size="70" fill="#151515" stroke="#151515" stroke-width="0.9" text-anchor="end">1.5</text>
<text transform="translate(160.0,1134.8) scale(0.963,1)" font-size="70" fill="#151515" stroke="#151515" stroke-width="0.9" text-anchor="end">2.0</text>
<text transform="translate(160.0,1014.6) scale(0.963,1)" font-size="70" fill="#151515" stroke="#151515" stroke-width="0.9" text-anchor="end">2.5</text>
<text transform="translate(160.0,894.4) scale(0.963,1)" font-size="70" fill="#151515" stroke="#151515" stroke-width="0.9" text-anchor="end">3.0</text>
<text transform="translate(189.0,1676.0) scale(0.963,1)" font-size="70" fill="#151515" stroke="#151515" stroke-width="0.9" text-anchor="middle">0</text>
<text transform="translate(365.5,1676.0) scale(0.963,1)" font-size="70" fill="#151515" stroke="#151515" stroke-width="0.9" text-anchor="middle">10</text>
<text transform="translate(536.7,1676.0) scale(0.963,1)" font-size="70" fill="#151515" stroke="#151515" stroke-width="0.9" text-anchor="middle">20</text>
<text transform="translate(707.9,1676.0) scale(0.963,1)" font-size="70" fill="#151515" stroke="#151515" stroke-width="0.9" text-anchor="middle">30</text>
<text transform="translate(879.1,1676.0) scale(0.963,1)" font-size="70" fill="#151515" stroke="#151515" stroke-width="0.9" text-anchor="middle">40</text>
<text transform="translate(1050.3,1676.0) scale(0.963,1)" font-size="70" fill="#151515" stroke="#151515" stroke-width="0.9" text-anchor="middle">50</text>
<text transform="translate(1221.5,1676.0) scale(0.963,1)" font-size="70" fill="#151515" stroke="#151515" stroke-width="0.9" text-anchor="middle">60</text>
<text transform="translate(624.5,1754.0) scale(0.963,1)" font-size="70" fill="#151515" stroke="#151515" stroke-width="0.9" text-anchor="start">Time / s</text>
<text transform="translate(50.3,1398.3) rotate(-90) scale(0.973,1)" font-size="70" fill="#151515" stroke="#151515" stroke-width="0.9">Voltage / mV</text>
<text transform="translate(205.5,946.0) scale(0.963,1)" font-size="70" fill="#151515" stroke="#151515" stroke-width="0.9" text-anchor="start">(c)</text>
<text transform="translate(1024.0,948.0) scale(0.949,1)" font-size="70" fill="#151515" stroke="#151515" stroke-width="0.9" text-anchor="start">&#8243;RACE&#8243;</text>
<text transform="translate(313.5,1002.9) scale(0.963,1)" font-size="70" fill="#151515" stroke="#151515" stroke-width="0.9" text-anchor="start">R</text>
<text transform="translate(567.0,1336.1) scale(0.963,1)" font-size="70" fill="#151515" stroke="#151515" stroke-width="0.9" text-anchor="start">A</text>
<text transform="translate(763.0,1203.5) scale(0.963,1)" font-size="70" fill="#151515" stroke="#151515" stroke-width="0.9" text-anchor="start">C</text>
<text transform="translate(1004.8,1091.7) scale(0.963,1)" font-size="70" fill="#151515" stroke="#151515" stroke-width="0.9" text-anchor="start">E</text>
<path d="M1507.0,1530.6 C1507.0,1530.6 1531.5,1535.3 1538.5,1537.6 C1542.5,1538.9 1545.7,1542.0 1548.9,1544.6 C1552.1,1547.2 1557.7,1553.4 1557.7,1553.4 C1557.7,1553.4 1562.9,1549.9 1562.9,1549.9 C1562.9,1549.9 1565.7,1526.6 1566.4,1514.9 C1567.6,1495.7 1569.0,1459.5 1569.9,1434.5 C1570.7,1411.2 1571.1,1383.8 1571.7,1364.6 C1572.2,1349.5 1572.2,1330.3 1573.4,1319.2 C1574.2,1312.0 1575.8,1303.0 1578.7,1298.2 C1581.2,1294.1 1586.2,1291.5 1590.9,1290.5 C1597.9,1289.0 1620.6,1289.5 1620.6,1289.5 C1620.6,1289.5 1621.0,1285.0 1621.0,1285.0 C1621.0,1285.0 1624.1,1305.9 1625.8,1315.7 C1627.4,1325.0 1628.8,1334.4 1631.1,1343.6 C1633.4,1352.9 1636.3,1362.5 1639.8,1371.6 C1643.6,1381.5 1649.1,1392.6 1653.8,1403.1 C1658.5,1413.6 1663.1,1424.6 1667.8,1434.5 C1672.2,1443.9 1676.5,1453.8 1681.8,1462.5 C1687.0,1471.1 1692.9,1479.4 1699.3,1487.0 C1705.7,1494.5 1712.6,1502.1 1720.2,1507.9 C1727.7,1513.6 1737.1,1516.4 1744.7,1521.9 C1752.3,1527.4 1765.7,1541.1 1765.7,1541.1 C1765.7,1541.1 1770.7,1537.0 1770.9,1534.1 C1772.1,1519.2 1771.2,1469.2 1772.7,1452.0 C1773.3,1444.6 1775.8,1437.2 1779.7,1431.0 C1783.8,1424.6 1791.3,1418.5 1797.1,1413.5 C1802.5,1408.9 1808.8,1404.2 1814.6,1401.3 C1820.0,1398.6 1832.1,1396.1 1832.1,1396.1 C1832.1,1396.1 1832.8,1392.0 1832.8,1392.0 C1832.8,1392.0 1835.5,1408.7 1837.3,1417.0 C1839.2,1425.8 1841.1,1436.2 1844.3,1445.0 C1847.5,1453.6 1851.5,1461.9 1856.6,1469.5 C1862.1,1477.7 1869.9,1486.4 1877.5,1494.0 C1885.1,1501.6 1893.9,1508.0 1902.0,1515.0 C1910.8,1522.6 1921.3,1533.0 1930.0,1539.4 C1937.6,1544.9 1946.7,1548.5 1954.4,1553.4 C1961.9,1558.2 1976.0,1568.8 1976.0,1568.8 C1976.0,1568.8 1984.9,1558.9 1985.2,1552.7 C1987.3,1514.2 1987.4,1409.3 1988.4,1337.6 C1989.4,1263.6 1990.1,1159.9 1991.1,1108.8 C1991.6,1082.8 1994.3,1031.0 1994.3,1031.0 C1994.3,1031.0 2001.7,1026.9 2005.8,1026.4 C2011.5,1025.6 2021.0,1026.2 2028.6,1026.4 C2036.2,1026.6 2051.5,1027.4 2051.5,1027.4 C2051.5,1027.4 2054.1,1051.2 2055.2,1063.1 C2056.7,1080.5 2058.3,1112.6 2060.7,1131.7 C2062.7,1147.1 2066.0,1162.4 2069.8,1177.5 C2073.6,1192.8 2078.8,1208.0 2083.6,1223.2 C2088.9,1240.0 2095.0,1260.7 2101.9,1278.2 C2108.6,1295.4 2116.9,1311.9 2124.8,1328.5 C2133.2,1346.0 2143.0,1365.9 2152.2,1383.4 C2161.0,1400.4 2170.5,1417.8 2179.7,1433.8 C2188.5,1449.2 2197.2,1467.3 2207.1,1479.5 C2216.0,1490.4 2231.6,1500.1 2239.2,1507.0 C2244.0,1511.3 2248.3,1516.1 2252.9,1520.7 C2259.8,1527.6 2273.8,1541.3 2280.3,1548.2 C2284.4,1552.5 2291.8,1561.9 2291.8,1561.9 C2291.8,1561.9 2297.9,1550.1 2298.7,1543.6 C2300.6,1529.1 2302.3,1497.8 2303.2,1474.9 C2304.7,1436.8 2306.4,1364.4 2307.8,1314.8 C2309.1,1269.0 2310.3,1204.2 2311.5,1177.5 C2311.8,1169.8 2312.3,1161.1 2314.7,1154.6 C2317.0,1148.5 2320.5,1141.9 2326.1,1138.6 C2332.6,1134.8 2345.2,1132.5 2353.6,1131.7 C2361.2,1131.0 2376.5,1134.0 2376.5,1134.0 C2376.5,1134.0 2378.8,1163.1 2381.0,1177.5 C2383.3,1192.4 2386.9,1208.0 2390.2,1223.2 C2394.0,1240.7 2398.6,1264.4 2403.9,1282.7 C2408.9,1299.9 2414.5,1317.0 2422.2,1333.1 C2430.6,1350.6 2443.6,1371.2 2454.3,1388.0 C2464.3,1403.7 2475.6,1420.1 2486.3,1433.8 C2496.2,1446.6 2508.4,1459.0 2518.3,1470.4 C2527.5,1481.0 2535.8,1492.5 2545.8,1502.4 C2556.6,1513.1 2583.3,1534.4 2583.3,1534.4" fill="none" stroke="#8dc24f" stroke-width="4.2" stroke-linejoin="round" stroke-linecap="round"/>
<rect x="1506" y="874.9" width="1079.5" height="719.3" fill="none" stroke="#151515" stroke-width="3.7"/>
<line x1="1507.8" y1="1534.8" x2="1521.3" y2="1534.8" stroke="#151515" stroke-width="3.6"/>
<line x1="1507.8" y1="1474.7" x2="1514.8" y2="1474.7" stroke="#151515" stroke-width="3.6"/>
<line x1="1507.8" y1="1414.6" x2="1521.3" y2="1414.6" stroke="#151515" stroke-width="3.6"/>
<line x1="1507.8" y1="1354.5" x2="1514.8" y2="1354.5" stroke="#151515" stroke-width="3.6"/>
<line x1="1507.8" y1="1294.4" x2="1521.3" y2="1294.4" stroke="#151515" stroke-width="3.6"/>
<line x1="1507.8" y1="1234.3" x2="1514.8" y2="1234.3" stroke="#151515" stroke-width="3.6"/>
<line x1="1507.8" y1="1174.2" x2="1521.3" y2="1174.2" stroke="#151515" stroke-width="3.6"/>
<line x1="1507.8" y1="1114.1" x2="1514.8" y2="1114.1" stroke="#151515" stroke-width="3.6"/>
<line x1="1507.8" y1="1054.0" x2="1521.3" y2="1054.0" stroke="#151515" stroke-width="3.6"/>
<line x1="1507.8" y1="993.9" x2="1514.8" y2="993.9" stroke="#151515" stroke-width="3.6"/>
<line x1="1507.8" y1="933.8" x2="1521.3" y2="933.8" stroke="#151515" stroke-width="3.6"/>
<line x1="1701.8" y1="1592.4" x2="1701.8" y2="1578.9" stroke="#151515" stroke-width="3.6"/>
<line x1="1897.6" y1="1592.4" x2="1897.6" y2="1578.9" stroke="#151515" stroke-width="3.6"/>
<line x1="2093.4" y1="1592.4" x2="2093.4" y2="1578.9" stroke="#151515" stroke-width="3.6"/>
<line x1="2289.2" y1="1592.4" x2="2289.2" y2="1578.9" stroke="#151515" stroke-width="3.6"/>
<line x1="2485.0" y1="1592.4" x2="2485.0" y2="1578.9" stroke="#151515" stroke-width="3.6"/>
<text transform="translate(1480.1,1552.8) scale(0.963,1)" font-size="70" fill="#151515" stroke="#151515" stroke-width="0.9" text-anchor="end">0.5</text>
<text transform="translate(1480.1,1432.6) scale(0.963,1)" font-size="70" fill="#151515" stroke="#151515" stroke-width="0.9" text-anchor="end">1.0</text>
<text transform="translate(1480.1,1312.4) scale(0.963,1)" font-size="70" fill="#151515" stroke="#151515" stroke-width="0.9" text-anchor="end">1.5</text>
<text transform="translate(1480.1,1192.2) scale(0.963,1)" font-size="70" fill="#151515" stroke="#151515" stroke-width="0.9" text-anchor="end">2.0</text>
<text transform="translate(1480.1,1072.0) scale(0.963,1)" font-size="70" fill="#151515" stroke="#151515" stroke-width="0.9" text-anchor="end">2.5</text>
<text transform="translate(1480.1,951.8) scale(0.963,1)" font-size="70" fill="#151515" stroke="#151515" stroke-width="0.9" text-anchor="end">3.0</text>
<text transform="translate(1508.5,1673.3) scale(0.963,1)" font-size="70" fill="#151515" stroke="#151515" stroke-width="0.9" text-anchor="middle">0</text>
<text transform="translate(1709.1,1673.3) scale(0.963,1)" font-size="70" fill="#151515" stroke="#151515" stroke-width="0.9" text-anchor="middle">10</text>
<text transform="translate(1904.9,1673.3) scale(0.963,1)" font-size="70" fill="#151515" stroke="#151515" stroke-width="0.9" text-anchor="middle">20</text>
<text transform="translate(2100.7,1673.3) scale(0.963,1)" font-size="70" fill="#151515" stroke="#151515" stroke-width="0.9" text-anchor="middle">30</text>
<text transform="translate(2296.5,1673.3) scale(0.963,1)" font-size="70" fill="#151515" stroke="#151515" stroke-width="0.9" text-anchor="middle">40</text>
<text transform="translate(2492.3,1673.3) scale(0.963,1)" font-size="70" fill="#151515" stroke="#151515" stroke-width="0.9" text-anchor="middle">50</text>
<text transform="translate(1915.2,1754.0) scale(0.963,1)" font-size="70" fill="#151515" stroke="#151515" stroke-width="0.9" text-anchor="start">Time / s</text>
<text transform="translate(1369.3,1396.8) rotate(-90) scale(0.973,1)" font-size="70" fill="#151515" stroke="#151515" stroke-width="0.9">Voltage / mV</text>
<text transform="translate(1536.1,952.0) scale(0.963,1)" font-size="70" fill="#151515" stroke="#151515" stroke-width="0.9" text-anchor="start">(d)</text>
<text transform="translate(2324.0,948.6) scale(0.952,1)" font-size="70" fill="#151515" stroke="#151515" stroke-width="0.9" text-anchor="start">&#8243;CARE&#8243;</text>
<text transform="translate(1556.5,1272.5) scale(0.963,1)" font-size="70" fill="#151515" stroke="#151515" stroke-width="0.9" text-anchor="start">C</text>
<text transform="translate(1774.0,1380.3) scale(0.963,1)" font-size="70" fill="#151515" stroke="#151515" stroke-width="0.9" text-anchor="start">A</text>
<text transform="translate(2002.5,1010.4) scale(0.963,1)" font-size="70" fill="#151515" stroke="#151515" stroke-width="0.9" text-anchor="start">R</text>
<text transform="translate(2320.3,1120.3) scale(0.963,1)" font-size="70" fill="#151515" stroke="#151515" stroke-width="0.9" text-anchor="start">E</text>
</svg></body></html>
